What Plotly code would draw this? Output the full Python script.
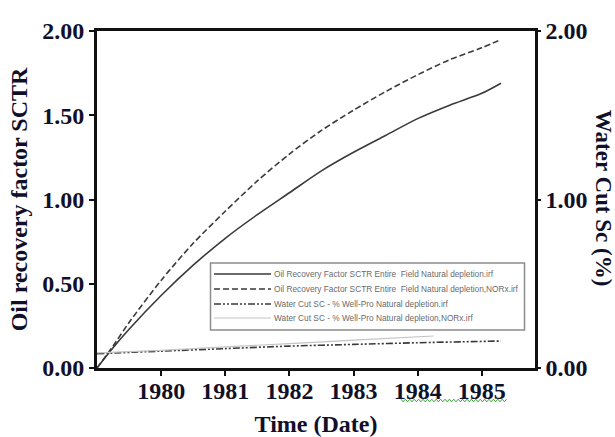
import plotly.graph_objects as go

# ---- data ----
time_oil = [1979.0, 1979.25, 1979.5, 1980.0, 1980.5, 1981.0, 1981.5, 1982.0,
            1982.5, 1983.0, 1983.5, 1984.0, 1984.5, 1985.0, 1985.3]
oil_rf_nd = [0.0, 0.12, 0.23, 0.43, 0.61, 0.77, 0.91, 1.04,
             1.17, 1.28, 1.38, 1.48, 1.56, 1.63, 1.69]
oil_rf_norx = [0.0, 0.13, 0.27, 0.52, 0.74, 0.93, 1.11, 1.27,
               1.41, 1.53, 1.64, 1.74, 1.83, 1.90, 1.95]

time_wc = [1979.0, 1980.0, 1981.0, 1982.0, 1983.0, 1984.0, 1985.3]
wc_nd = [0.085, 0.10, 0.115, 0.13, 0.14, 0.15, 0.16]

time_wc_norx = [1979.0, 1980.0, 1981.0, 1982.0, 1983.0, 1984.25]
wc_norx = [0.09, 0.105, 0.125, 0.145, 0.165, 0.19]

names = [
    "Oil Recovery Factor SCTR Entire  Field Natural depletion.irf",
    "Oil Recovery Factor SCTR Entire  Field Natural depletion,NORx.irf",
    "Water Cut SC - % Well-Pro Natural depletion.irf",
    "Water Cut SC - % Well-Pro Natural depletion,NORx.irf",
]
x_ticks = [1980, 1981, 1982, 1983, 1984, 1985]
y_ticks = [0.0, 0.5, 1.0, 1.5, 2.0]
y2_ticks = [0.0, 1.0, 2.0]

# ---- styles ----
TXT = "#10102a"
SERIF = "Liberation Serif, Times New Roman, serif"
styles = [
    dict(color="#3a3a3a", width=1.6, dash="solid"),
    dict(color="#3a3a3a", width=1.6, dash="6px,3px"),
    dict(color="#3a3a3a", width=1.6, dash="7px,2px,2px,2px,2px,2px"),
    dict(color="#c4c4c4", width=1.2, dash="solid"),
]

W, H = 615, 437
ML, MR, MT, MB = 97, 80, 31, 69
PW, PH = W - ML - MR, H - MT - MB


def px_x(px):
    return (px - ML) / PW


def px_y(py):
    return (H - MB - py) / PH


fig = go.Figure()
fig.add_trace(go.Scatter(x=time_oil, y=oil_rf_nd, mode="lines", name=names[0],
                         line=dict(**styles[0], shape="spline", smoothing=0.8)))
fig.add_trace(go.Scatter(x=time_oil, y=oil_rf_norx, mode="lines", name=names[1],
                         line=dict(**styles[1], shape="spline", smoothing=0.8)))
fig.add_trace(go.Scatter(x=time_wc, y=wc_nd, mode="lines", name=names[2], yaxis="y2",
                         line=dict(**styles[2], shape="spline", smoothing=0.8)))
fig.add_trace(go.Scatter(x=time_wc_norx, y=wc_norx, mode="lines", name=names[3], yaxis="y2",
                         line=dict(**styles[3], shape="spline", smoothing=0.8)))

tick_font = dict(family=SERIF, size=24, color=TXT, weight="bold")
title_font = dict(family=SERIF, size=24, color=TXT, weight="bold")

# ---- legend drawn as a boxed key ----
shapes = [dict(type="rect", xref="paper", yref="paper",
               x0=px_x(210.5), x1=px_x(524.5), y0=px_y(330), y1=px_y(263),
               line=dict(color="#8c8c8c", width=1.5), fillcolor="white", layer="above")]
annotations = []
rows = [274, 289, 304, 318]
for name, st, ry in zip(names, styles, rows):
    shapes.append(dict(type="line", xref="paper", yref="paper",
                       x0=px_x(214), x1=px_x(271), y0=px_y(ry), y1=px_y(ry),
                       line=dict(color=st["color"], width=st["width"], dash=st["dash"]),
                       layer="above"))
    annotations.append(dict(text=name, xref="paper", yref="paper", x=px_x(272), y=px_y(ry),
                            xanchor="left", yanchor="middle", showarrow=False,
                            font=dict(family="Liberation Sans, Arial", size=8.3, color="#6a6a6a")))

# right-hand axis title, reading top to bottom
annotations.append(dict(text="Water Cut Sc (%)", xref="paper", yref="paper",
                        x=px_x(603), y=0.505, xanchor="center", textangle=90, showarrow=False,
                        font=dict(family=SERIF, size=23, color=TXT, weight="bold")))

# green wavy underline under "1984 1985" (as in the reference image)
zz = []
xx = 401.0
k = 0
while xx <= 508:
    zz.append(f"{'M' if k == 0 else 'L'} {px_x(xx):.5f} {px_y(400.5 + (1.3 if k % 2 else -1.3)):.5f}")
    xx += 2.2
    k += 1
shapes.append(dict(type="path", xref="paper", yref="paper", path=" ".join(zz),
                   line=dict(color="#3aa03a", width=1)))

fig.update_layout(
    width=W, height=H,
    margin=dict(l=ML, r=MR, t=MT, b=MB, autoexpand=False),
    paper_bgcolor="white", plot_bgcolor="white",
    showlegend=False,
    xaxis=dict(
        range=[1979.0, 1985.83], tickvals=x_ticks, ticktext=[str(v) for v in x_ticks],
        showline=True, linecolor="#111", linewidth=3, mirror=True,
        ticks="outside", ticklen=5, tickwidth=1.5, tickcolor="#111",
        showgrid=False, zeroline=False, automargin=False,
        tickfont=tick_font, ticklabelstandoff=-6,
        title=dict(text="Time (Date)", font=title_font, standoff=16),
    ),
    yaxis=dict(
        range=[0, 2.0], tickvals=y_ticks, ticktext=[f"{v:.2f}" for v in y_ticks],
        showline=True, linecolor="#111", linewidth=3,
        ticks="outside", ticklen=5, tickwidth=1.5, tickcolor="#111",
        showgrid=False, zeroline=False, automargin=False,
        tickfont=tick_font,
        title=dict(text="Oil recovery factor SCTR", font=title_font, standoff=8),
    ),
    yaxis2=dict(
        range=[0, 2.0], overlaying="y", side="right",
        tickvals=y2_ticks, ticktext=[f"{v:.2f}" for v in y2_ticks],
        showline=True, linecolor="#111", linewidth=2.5,
        ticks="outside", ticklen=3, tickwidth=1.5, tickcolor="#111",
        showgrid=False, zeroline=False, automargin=False,
        tickfont=tick_font,
    ),
    shapes=shapes,
    annotations=annotations,
)

fig.write_html("out.html")
